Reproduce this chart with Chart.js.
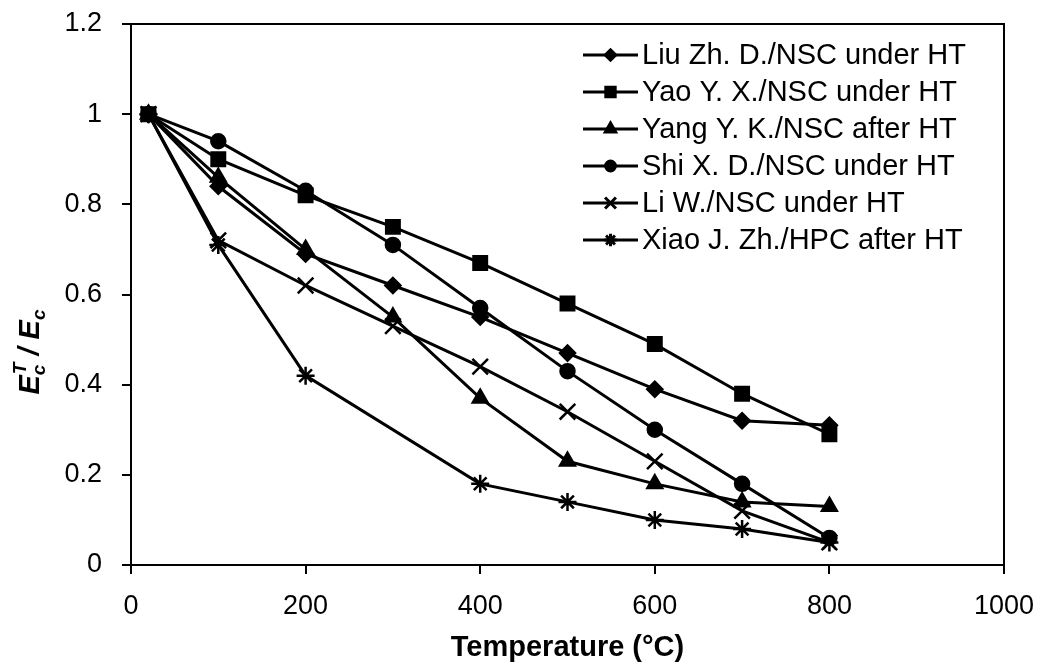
<!DOCTYPE html>
<html>
<head>
<meta charset="utf-8">
<script src="https://cdn.jsdelivr.net/npm/chart.js@4.4.1/dist/chart.umd.min.js"></script>
<style>
html,body{margin:0;padding:0;background:#fff;}
#wrap{width:1046px;height:671px;position:relative;}
</style>
</head>
<body>
<div id="wrap"><canvas id="c" width="1046" height="671"></canvas></div>
<script>
// ---- data ----
const temps = [20, 100, 200, 300, 400, 500, 600, 700, 800];
const tempsXiao = [20, 100, 200, 400, 500, 600, 700, 800];
const seriesLabels = [
  'Liu Zh. D./NSC under HT',
  'Yao Y. X./NSC under HT',
  'Yang Y. K./NSC after HT',
  'Shi X. D./NSC under HT',
  'Li W./NSC under HT',
  'Xiao J. Zh./HPC after HT'
];
const liu  = [1, 0.84, 0.69, 0.62, 0.55, 0.47, 0.39, 0.32, 0.31];
const yao  = [1, 0.90, 0.82, 0.75, 0.67, 0.58, 0.49, 0.38, 0.29];
const yang = [1, 0.86, 0.70, 0.55, 0.37, 0.23, 0.18, 0.14, 0.13];
const shi  = [1, 0.94, 0.83, 0.71, 0.57, 0.43, 0.30, 0.18, 0.06];
const li   = [1, 0.72, 0.62, 0.53, 0.44, 0.34, 0.23, 0.12, 0.05];
const xiao = [1, 0.71, 0.42, 0.18, 0.14, 0.10, 0.08, 0.05];
const xTicks = [0, 200, 400, 600, 800, 1000];
const yTicks = [0, 0.2, 0.4, 0.6, 0.8, 1, 1.2];

const FONT = '"Liberation Sans", Arial, sans-serif';

function pts(xs, ys){ return xs.map((x,i)=>({x:x, y:ys[i]})); }

const styles = [
  {ps:'rectRot', r:7.5},
  {ps:'rect', r:9.5},
  {ps:'triangle', r:8.5},
  {ps:'circle', r:7},
  {ps:'crossRot', r:11},
  {ps:'star', r:9}
];
const allData = [pts(temps,liu), pts(temps,yao), pts(temps,yang), pts(temps,shi), pts(temps,li), pts(tempsXiao,xiao)];

const datasets = allData.map((d,i)=>({
  label: seriesLabels[i],
  data: d,
  borderColor: '#000',
  backgroundColor: '#000',
  borderWidth: 3,
  pointStyle: styles[i].ps,
  pointRadius: styles[i].r,
  pointBorderWidth: 2.5,
  pointBorderColor: '#000',
  pointBackgroundColor: '#000',
  fill: false,
  tension: 0
}));

const frame = {
  id: 'frame',
  afterDraw(chart){
    const {ctx, chartArea:a} = chart;
    ctx.save();
    ctx.strokeStyle = '#000';
    ctx.lineWidth = 2;
    ctx.strokeRect(a.left, a.top, a.right - a.left, a.bottom - a.top);
    // legend
    const lx0 = 583, lx1 = 638, tx = 642, y0 = 55, dy = 37;
    ctx.font = '29px ' + FONT;
    ctx.textBaseline = 'middle';
    ctx.fillStyle = '#000';
    chart.data.datasets.forEach((ds,i)=>{
      const y = y0 + i*dy;
      ctx.beginPath();
      ctx.lineWidth = 3;
      ctx.moveTo(lx0, y); ctx.lineTo(lx1, y); ctx.stroke();
      Chart.helpers.drawPoint(ctx, {pointStyle: ds.pointStyle, radius: ds.pointRadius*0.7, borderWidth: 2, rotation:0}, (lx0+lx1)/2, y);
      ctx.fillText(ds.label, tx, y + 1);
    });
    // x title
    ctx.font = 'bold 29px ' + FONT;
    ctx.textAlign = 'center';
    ctx.textBaseline = 'middle';
    ctx.fillText('Temperature (°C)', (a.left + a.right)/2, 648);
    // y title
    ctx.translate(29, 352);
    ctx.rotate(-Math.PI/2);
    const big = 'bold italic 29px ' + FONT;
    const small = 'bold italic 19px ' + FONT;
    ctx.font = big;
    const wE = ctx.measureText('E').width, wS = ctx.measureText(' / ').width;
    ctx.font = small;
    const wc = ctx.measureText('c').width, wT = ctx.measureText('T').width;
    const total = wE + Math.max(wc, wT) + wS + wE + wc;
    let x = -total/2;
    ctx.textAlign = 'left';
    ctx.textBaseline = 'alphabetic';
    const base = 10;
    ctx.font = big; ctx.fillText('E', x, base); x += wE;
    ctx.font = small; ctx.fillText('c', x, base + 6); ctx.fillText('T', x + 1, base - 13);
    x += Math.max(wc, wT);
    ctx.font = big; ctx.fillText(' / ', x, base); x += wS;
    ctx.fillText('E', x, base); x += wE;
    ctx.font = small; ctx.fillText('c', x, base + 6);
    ctx.restore();
  }
};

function noPad(s){ s.paddingTop = 0; s.paddingBottom = 0; s.paddingLeft = 0; s.paddingRight = 0; }

new Chart(document.getElementById('c'), {
  type: 'line',
  data: { datasets },
  options: {
    responsive: false,
    animation: false,
    devicePixelRatio: 1,
    layout: { padding: { top: 24, right: 42, left: 0, bottom: 0 } },
    plugins: { legend: { display: false }, tooltip: { enabled: false } },
    scales: {
      x: {
        type: 'linear', min: 0, max: 1000,
        afterBuildTicks(s){ s.ticks = xTicks.map(v=>({value:v})); },
        afterFit(s){ s.height = 671 - 565; noPad(s); },
        grid: { drawOnChartArea: false, drawTicks: true, tickLength: 9, color: '#000', lineWidth: 2 },
        border: { color: '#000', width: 2 },
        ticks: { color: '#000', font: { family: FONT, size: 27 }, padding: 16, maxRotation: 0,
          callback: v => String(v) }
      },
      y: {
        type: 'linear', min: 0, max: 1.2,
        afterBuildTicks(s){ s.ticks = yTicks.map(v=>({value:v})); },
        afterFit(s){ s.width = 131; noPad(s); },
        grid: { drawOnChartArea: false, drawTicks: true, tickLength: 9, color: '#000', lineWidth: 2 },
        border: { color: '#000', width: 2 },
        ticks: { color: '#000', font: { family: FONT, size: 27 }, padding: 20,
          callback: v => String(Number(v.toFixed(1))) }
      }
    }
  },
  plugins: [frame]
});
</script>
</body>
</html>
